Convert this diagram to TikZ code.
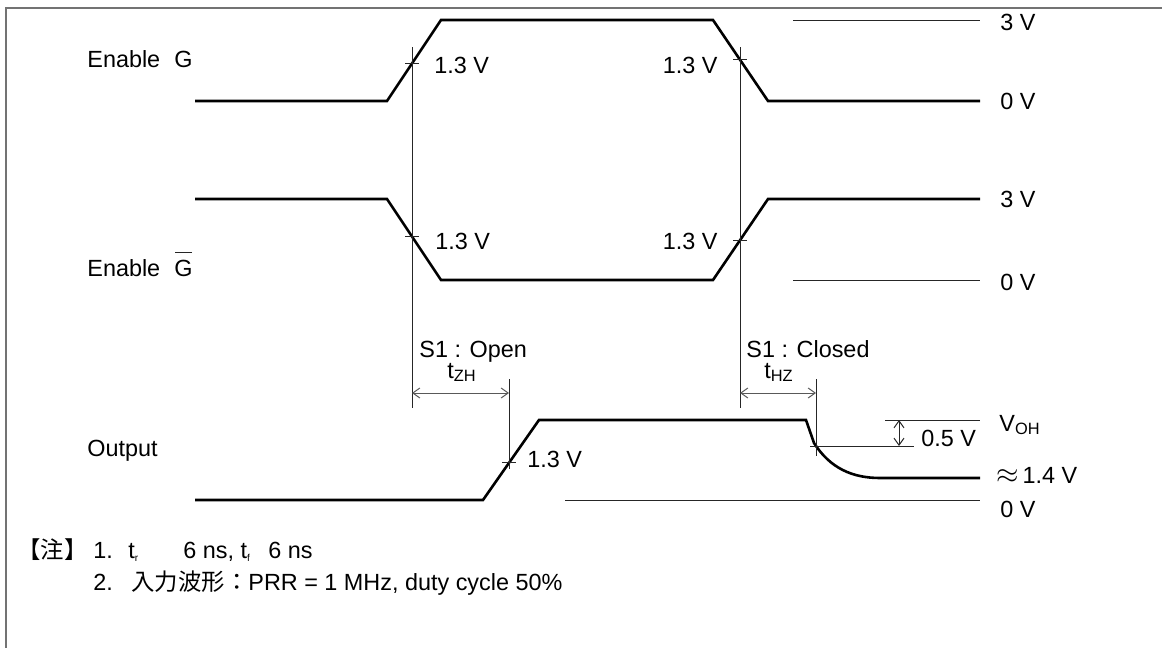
\documentclass[tikz,border=0pt]{standalone}
\usepackage{fontspec}
\setmainfont{Liberation Sans}
\newfontfamily\cjkfont{Noto Sans CJK JP}
\usetikzlibrary{arrows.meta}
\begin{document}
\begin{tikzpicture}[x=0.5pt,y=-0.5pt,
  font=\fontsize{11.7}{13.5}\selectfont,
  wave/.style={line width=1.3pt, line join=miter},
  thinln/.style={line width=0.5pt, draw=black!85},
  frame/.style={line width=1pt, draw=black!55},
  dimarr/.style={line width=0.5pt, draw=black!65, {Straight Barb[length=3.5pt,width=5pt]}-{Straight Barb[length=3.5pt,width=5pt]}},
  lbl/.style={anchor=base west, inner sep=0pt},
  lblr/.style={anchor=base east, inner sep=0pt}]
\useasboundingbox (0,0) rectangle (1162,648);
% frame
\draw[frame] (5,8) -- (1162,8);
\draw[frame] (6,8) -- (6,648);

% ---------- Enable G ----------
\coordinate (g0) at (195,101);
\coordinate (g1) at (387,101);
\coordinate (g2) at (441,20);
\coordinate (g3) at (713,20);
\coordinate (g4) at (768,101);
\coordinate (g5) at (980,101);
\draw[wave] (g0) -- (g1) -- (g2) -- (g3) -- (g4) -- (g5);
\node[lbl] (lg) at (87,68) {Enable\hspace{0.6em}G};
\coordinate (r3a) at (793,20);
\coordinate (r3b) at (980,20);
\draw[thinln] (r3a) -- (r3b);
\node[lbl] (v3a) at (1000,30) {3 V};
\node[lbl] (v0a) at (1000,109) {0 V};

% ---------- Enable Gbar ----------
\coordinate (h0) at (195,199);
\coordinate (h1) at (387,199);
\coordinate (h2) at (441,280);
\coordinate (h3) at (713,280);
\coordinate (h4) at (768,199);
\coordinate (h5) at (980,199);
\draw[wave] (h0) -- (h1) -- (h2) -- (h3) -- (h4) -- (h5);
\node[lbl] (lgb) at (87,276) {Enable\hspace{0.6em}G};
\draw[thinln, line width=0.6pt] ([xshift=-0.4pt,yshift=3.2pt]lgb.north east) -- ([xshift=-9pt,yshift=3.2pt]lgb.north east);
\coordinate (r0a) at (793,280);
\coordinate (r0b) at (980,280);
\draw[thinln] (r0a) -- (r0b);
\node[lbl] (v3b) at (1000,207) {3 V};
\node[lbl] (v0b) at (1000,290) {0 V};

% ---------- reference verticals ----------
\coordinate (va1) at (412,47);
\coordinate (va2) at (412,408);
\coordinate (vb1) at (740,47);
\coordinate (vb2) at (740,408);
\draw[thinln] (va1) -- (va2);
\draw[thinln] (vb1) -- (vb2);

% crossing ticks
\coordinate (c1) at (intersection of g1--g2 and va1--va2);
\coordinate (c2) at (intersection of g3--g4 and vb1--vb2);
\coordinate (c3) at (intersection of h1--h2 and va1--va2);
\coordinate (c4) at (intersection of h3--h4 and vb1--vb2);
\foreach \c in {c1,c2,c3,c4}{
  \draw[thinln] ([xshift=-3.5pt]\c) -- ([xshift=3.5pt]\c);
}
\node[lbl]  (t1) at (434,73) {1.3 V};
\node[lblr] (t2) at (718,73) {1.3 V};
\node[lbl]  (t3) at (435,249) {1.3 V};
\node[lblr] (t4) at (718,249) {1.3 V};

% ---------- Output ----------
\coordinate (o0) at (195,500);
\coordinate (o1) at (483,500);
\coordinate (o2) at (539,420);
\coordinate (o3) at (806,420);
\coordinate (o4) at (814,443);
\coordinate (o5) at (880,478);
\coordinate (o6) at (980,478);
\draw[wave] (o0) -- (o1) -- (o2) -- (o3) -- (o4) .. controls (830,468) and (852,478) .. (o5) -- (o6);
\node[lbl] (lo) at (87,456) {Output};

\coordinate (wa1) at (509,379);
\coordinate (wa2) at (509,469);
\coordinate (wb1) at (816,379);
\coordinate (wb2) at (816,456);
\draw[thinln] (wa1) -- (wa2);
\draw[thinln] (wb1) -- (wb2);
\coordinate (c5) at (intersection of o1--o2 and wa1--wa2);
\draw[thinln] ([xshift=-3.5pt]c5) -- ([xshift=3.5pt]c5);
\node[lbl] (t5) at (527,467) {1.3 V};

% timing arrows
\coordinate (za) at (412,393);
\coordinate (zb) at (509,393);
\coordinate (ha) at (740,393);
\coordinate (hb) at (816,393);
\draw[dimarr] (za) -- (zb);
\draw[dimarr] (ha) -- (hb);
\node[lbl] (s1o) at (419,357) {S1 : Open};
\node[lbl] (tzh) at (447,378) {t\textsubscript{ZH}};
\node[lbl] (s1c) at (746,357) {S1 : Closed};
\node[lbl] (thz) at (764,378) {t\textsubscript{HZ}};

% output reference lines
\coordinate (voa) at (885,420);
\coordinate (vob) at (980,420);
\draw[thinln] (voa) -- (vob);
\coordinate (d5a) at (810,446);
\coordinate (d5b) at (914,446);
\draw[thinln] (d5a) -- (d5b);
\coordinate (ua) at (899,420);
\coordinate (ub) at (899,446);
\draw[dimarr, draw=black!85] (ua) -- (ub);
\coordinate (zo1) at (565,500);
\coordinate (zo2) at (980,500);
\draw[thinln] (zo1) -- (zo2);
\node[lbl] (voh) at (999,431) {V\textsubscript{OH}};
\node[lbl] (v05) at (921,446) {0.5 V};
\node[lbl] (v14) at (996,483) {{\Large$\approx$}\,1.4 V};
\node[lbl] (v0c) at (1000,517) {0 V};

% ---------- notes ----------
\node[lbl] (n0) at (17,558) {\cjkfont 【注】};
\node[lbl] (n1) at (93,558) {1.};
\node[lbl] (n1a) at (128,558) {t\textsubscript{\tiny r}};
\node[lbl] (n1b) at (183,558) {6 ns, t\textsubscript{\tiny f}};
\node[lbl] (n1c) at (268,558) {6 ns};
\node[lbl] (n2) at (93,590) {2.};
\node[lbl] (n2a) at (131,590) {{\cjkfont 入力波形：}PRR = 1 MHz, duty cycle 50\%};
\end{tikzpicture}
\end{document}
